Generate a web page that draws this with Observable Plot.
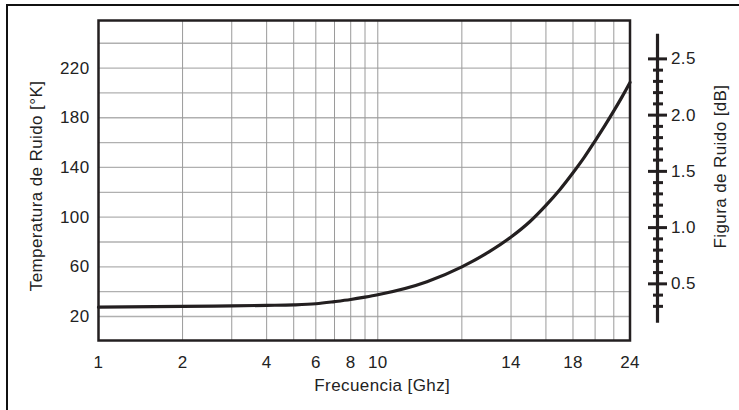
<!DOCTYPE html>
<html>
<head>
<meta charset="utf-8">
<script src="https://cdn.jsdelivr.net/npm/d3@7"></script>
<script src="https://cdn.jsdelivr.net/npm/@observablehq/plot@0.6"></script>
<style>
  body { margin: 0; background: #fff; }
  #wrap { position: relative; width: 739px; height: 410px; overflow: hidden; background: #fff; }
  #chart { position: absolute; left: 0; top: 0; }
  #border { position: absolute; left: 6px; top: 4px; width: 900px; height: 600px;
            border-left: 2px solid #111; border-top: 2px solid #111; pointer-events: none; z-index: 2; }
</style>
</head>
<body>
<div id="wrap"><div id="chart"></div><div id="border"></div></div>
<script>
// ---- data ----
const freqGHz = [1, 2, 3, 4, 5, 6, 7, 8, 9, 10, 11, 12, 13, 14, 15, 16, 17, 18, 19, 20, 21, 22, 23, 24];
const tempK   = [27.5, 28.2, 28.6, 29.0, 29.4, 30.3, 32.0, 33.7, 35.6, 37.5, 48, 60, 72, 84, 96.3, 109.5, 122.5, 135.7, 148.5, 161.4, 173.6, 185.5, 197, 208.4];

const xTickLabels = [1, 2, 4, 6, 8, 10, 14, 18, 24];
const xGridValues = [1, 2, 3, 4, 5, 6, 7, 8, 9, 10, 12, 14, 16, 18, 20, 22, 24];
const yTickLabels = [20, 60, 100, 140, 180, 220];
const yGridValues = [20, 40, 60, 80, 100, 120, 140, 160, 180, 200, 220, 240];
const yDomain = [0.7, 258.3];

// secondary axis: noise figure in dB
const nfMajor = [0.5, 1.0, 1.5, 2.0, 2.5];
const nfMinor = [0.3, 0.4, 0.6, 0.7, 0.8, 0.9, 1.1, 1.2, 1.3, 1.4, 1.6, 1.7, 1.8, 1.9, 2.1, 2.2, 2.3, 2.4];
const nfAxisExtent = [0.15, 2.72];
// linear correspondence of the dB axis to the temperature axis (two anchors)
const nfAnchors = [0.5, 2.5];
const tAnchors = [46.3, 227.4];

// ---- scale helpers ----
// the frequency axis of the original is a log decade 1–10 followed by a "decade" relabelled 10,12,…,24
const warp = f => f <= 10 ? Math.log10(f) : 1 + Math.log10((f - 10) / 2 + 1);
const unwarp = u => u <= 1 ? Math.pow(10, u) : 10 + 2 * (Math.pow(10, u - 1) - 1);
const nfToT = d => tAnchors[0] + (d - nfAnchors[0]) * (tAnchors[1] - tAnchors[0]) / (nfAnchors[1] - nfAnchors[0]);
const tToNf = t => nfAnchors[0] + (t - tAnchors[0]) * (nfAnchors[1] - nfAnchors[0]) / (tAnchors[1] - tAnchors[0]);

const uMax = warp(d3.max(freqGHz));
const curve = freqGHz.map((f, i) => ({u: warp(f), t: tempK[i]}));
const ink = "#231f20";

const chart = Plot.plot({
  width: 739,
  height: 410,
  marginLeft: 98,
  marginRight: 109.5,
  marginTop: 20,
  marginBottom: 70,
  style: {fontFamily: "'Liberation Sans', Arial, sans-serif", fontSize: "17px", color: "#222", letterSpacing: "0.4px", background: "transparent"},
  x: {type: "linear", domain: [0, uMax]},
  y: {type: "linear", domain: yDomain},
  marks: [
    Plot.ruleY(yGridValues, {stroke: "#b0b0b0", strokeWidth: 1.3}),
    Plot.ruleX(xGridValues.map(warp), {stroke: "#9a9a9a", strokeWidth: 1}),
    Plot.line(curve, {x: "u", y: "t", curve: "monotone-x", stroke: ink, strokeWidth: 3.2}),
    Plot.frame({stroke: ink, strokeWidth: 2.5}),
    Plot.axisX(xTickLabels.map(warp), {tickSize: 0, tickPadding: 15, tickFormat: u => String(Math.round(unwarp(u))), label: null}),
    Plot.axisY(yTickLabels, {tickSize: 0, tickPadding: 9, label: null}),
    // secondary (dB) axis
    Plot.ruleX([uMax], {x: d => d, y1: () => nfToT(nfAxisExtent[0]), y2: () => nfToT(nfAxisExtent[1]), dx: 27.5, stroke: ink, strokeWidth: 3.2}),
    Plot.axisY(nfMinor.map(nfToT), {anchor: "right", tickSize: 10, dx: 22.5, tickFormat: () => "", stroke: ink, strokeWidth: 3, label: null}),
    Plot.axisY(nfMajor.map(nfToT), {anchor: "right", tickSize: 19, dx: 17.5, tickPadding: 4.5, tickFormat: t => tToNf(t).toFixed(1), stroke: ink, strokeWidth: 3, label: null}),
    // titles
    Plot.text(["Frecuencia [Ghz]"], {frameAnchor: "bottom", dx: 18, dy: 45.5, lineAnchor: "middle", textAnchor: "middle", fill: "#222"}),
    Plot.text(["Temperatura de Ruido [°K]"], {frameAnchor: "left", rotate: -90, dx: -62, dy: 5.5, lineAnchor: "middle", textAnchor: "middle", fill: "#222"}),
    Plot.text(["Figura de Ruido [dB]"], {frameAnchor: "right", rotate: -90, dx: 90.5, dy: -14, lineAnchor: "middle", textAnchor: "middle", fill: "#222"})
  ]
});
document.getElementById("chart").append(chart);
</script>
</body>
</html>
